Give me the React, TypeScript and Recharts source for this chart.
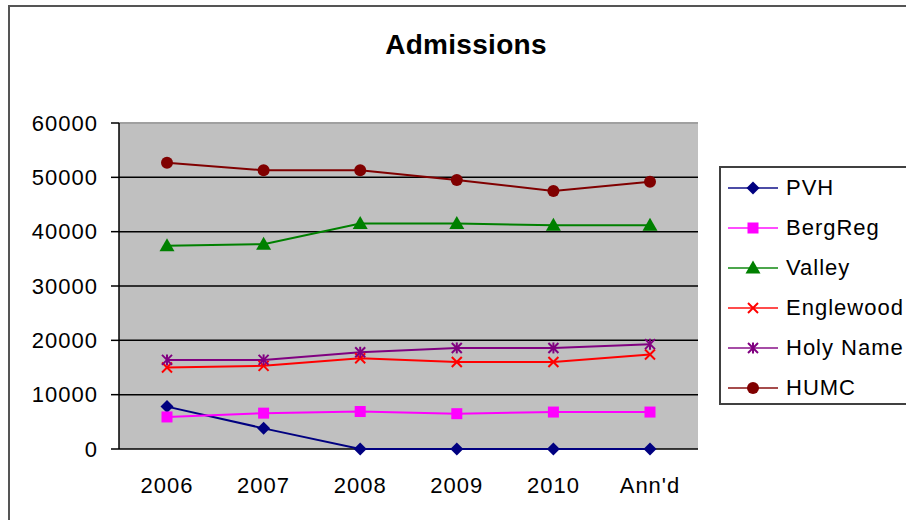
import React from 'react';
import { LineChart, Line, XAxis, YAxis, CartesianGrid, Legend, ReferenceLine } from 'recharts';

const categories = ['2006', '2007', '2008', '2009', '2010', "Ann'd"];
const pvh = [7800, 3800, 0, 0, 0, 0];
const bergReg = [5900, 6600, 6900, 6500, 6800, 6800];
const valley = [37400, 37700, 41500, 41500, 41200, 41200];
const englewood = [15000, 15300, 16700, 16000, 16000, 17400];
const holyName = [16400, 16400, 17800, 18600, 18600, 19300];
const humc = [52700, 51300, 51300, 49500, 47500, 49200];
const yTicks = [0, 10000, 20000, 30000, 40000, 50000, 60000];

const series = [
  { name: 'PVH', values: pvh, color: '#000080', shape: 'diamond' },
  { name: 'BergReg', values: bergReg, color: '#ff00ff', shape: 'square' },
  { name: 'Valley', values: valley, color: '#008000', shape: 'triangle' },
  { name: 'Englewood', values: englewood, color: '#ff0000', shape: 'x' },
  { name: 'Holy Name', values: holyName, color: '#800080', shape: 'star' },
  { name: 'HUMC', values: humc, color: '#800000', shape: 'circle' },
];

const data = categories.map((cat, i) => {
  const row: any = { cat };
  series.forEach((s) => { row[s.name] = s.values[i]; });
  return row;
});

const FONT = '"Liberation Sans", Arial, sans-serif';

// excel style markers
const Marker = ({ cx, cy, shape, color }: any) => {
  switch (shape) {
    case 'diamond':
      return <polygon points={`${cx},${cy - 6.5} ${cx + 6.5},${cy} ${cx},${cy + 6.5} ${cx - 6.5},${cy}`} fill={color} />;
    case 'square':
      return <rect x={cx - 5.5} y={cy - 5.5} width={11} height={11} fill={color} />;
    case 'triangle':
      return <polygon points={`${cx},${cy - 7.5} ${cx + 7.5},${cy + 5.5} ${cx - 7.5},${cy + 5.5}`} fill={color} />;
    case 'x':
      return (
        <g stroke={color} strokeWidth={2}>
          <line x1={cx - 5} y1={cy - 5} x2={cx + 5} y2={cy + 5} />
          <line x1={cx - 5} y1={cy + 5} x2={cx + 5} y2={cy - 5} />
        </g>
      );
    case 'star':
      return (
        <g stroke={color} strokeWidth={2}>
          <line x1={cx - 5} y1={cy - 5} x2={cx + 5} y2={cy + 5} />
          <line x1={cx - 5} y1={cy + 5} x2={cx + 5} y2={cy - 5} />
          <line x1={cx} y1={cy - 5.5} x2={cx} y2={cy + 5.5} />
        </g>
      );
    default:
      return <circle cx={cx} cy={cy} r={6} fill={color} />;
  }
};

const order = (name: string) => series.findIndex((s) => s.name === name);

const LegendBox = ({ payload }: any) => {
  const items = [...(payload || [])].sort((a: any, b: any) => order(a.value) - order(b.value));
  return (
    <div
      style={{
        width: 220,
        height: 235,
        border: '2px solid #404040',
        background: '#fff',
        fontFamily: FONT,
        fontSize: 22,
        letterSpacing: 1,
        color: '#000',
      }}
    >
      {items.map((p: any) => {
        const s = series[order(p.value)] || series[0];
        return (
          <div key={p.value} style={{ height: 40, display: 'flex', alignItems: 'center' }}>
            <svg width={65} height={20} style={{ flex: 'none' }}>
              <line x1={7} y1={10} x2={57} y2={10} stroke={s.color} strokeWidth={2} strokeOpacity={0.7} />
              <Marker cx={32} cy={10} shape={s.shape} color={s.color} />
            </svg>
            <span style={{ whiteSpace: 'nowrap' }}>{p.value}</span>
          </div>
        );
      })}
    </div>
  );
};

const tickStyle = { fontSize: 22, fill: '#000', fontFamily: FONT, letterSpacing: 1 };

export default function App() {
  return (
    <div style={{ position: 'absolute', left: 0, top: 0, width: 906, height: 520, overflow: 'hidden', background: '#fff' }}>
      <div style={{ position: 'absolute', left: 8, top: 5, width: 1000, height: 700, border: '2px solid #555' }} />
      <div
        style={{
          position: 'absolute',
          left: 0,
          width: 932,
          top: 31,
          textAlign: 'center',
          fontFamily: FONT,
          fontWeight: 'bold',
          fontSize: 28,
          lineHeight: '28px',
          letterSpacing: 0.3,
        }}
      >
        Admissions
      </div>
      <div style={{ position: 'absolute', left: 0, top: 0 }}>
        <LineChart width={906} height={520} data={data} margin={{ top: 123, right: 208, bottom: 21, left: 19 }}>
          <CartesianGrid vertical={false} stroke="#000" strokeWidth={1.5} fill="#c0c0c0" fillOpacity={1} />
          <XAxis
            xAxisId="edges"
            type="number"
            domain={[0, 6]}
            ticks={[0, 1, 2, 3, 4, 5, 6]}
            tick={false}
            tickSize={8}
            height={0}
            axisLine={{ stroke: '#000', strokeWidth: 1.5 }}
            tickLine={{ stroke: '#000', strokeWidth: 1.5 }}
          />
          <XAxis
            dataKey="cat"
            padding={{ left: 48, right: 48 }}
            height={50}
            axisLine={false}
            tickLine={false}
            tickSize={0}
            tickMargin={28}
            tick={tickStyle}
            interval={0}
          />
          <YAxis
            domain={[0, 60000]}
            ticks={yTicks}
            width={100}
            tickSize={8}
            tickMargin={13}
            tick={tickStyle}
            axisLine={{ stroke: '#000', strokeWidth: 1.5 }}
            tickLine={{ stroke: '#000', strokeWidth: 1.5 }}
            interval={0}
          />
          <YAxis
            yAxisId="right"
            orientation="right"
            domain={[0, 60000]}
            width={0}
            tick={false}
            tickLine={false}
            axisLine={{ stroke: '#909090', strokeWidth: 2 }}
          />
          <ReferenceLine y={60000} stroke="#a0a0a0" strokeWidth={2} />
          <Legend
            layout="vertical"
            align="center"
            verticalAlign="middle"
            content={<LegendBox />}
            wrapperStyle={{ position: 'absolute', left: 719, top: 166, width: 224, height: 239 }}
          />
          {series.map((s) => (
            <Line
              key={s.name}
              type="linear"
              dataKey={s.name}
              name={s.name}
              stroke={s.color}
              strokeWidth={2}
              isAnimationActive={false}
              dot={(props: any) => (
                <Marker key={`${s.name}-${props.index}`} cx={props.cx} cy={props.cy} shape={s.shape} color={s.color} />
              )}
              activeDot={false}
            />
          ))}
        </LineChart>
      </div>
    </div>
  );
}
